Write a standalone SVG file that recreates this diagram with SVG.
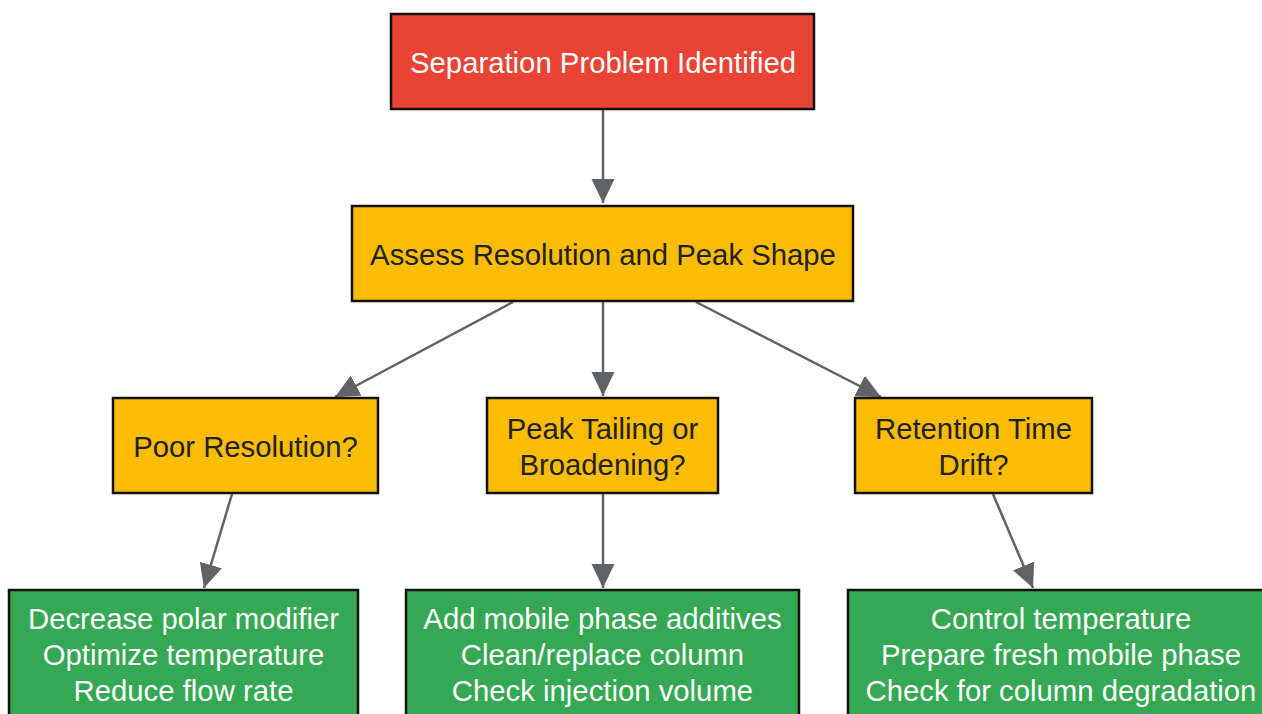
<svg xmlns="http://www.w3.org/2000/svg" width="1262" height="714" viewBox="0 0 1262 714">
<style>
.box{stroke:#111;stroke-width:2.5}
.red{fill:#EA4335}.yel{fill:#FBBC04}.grn{fill:#34A853}
text{font-family:"Liberation Sans",Arial,sans-serif;font-size:29.3px;text-anchor:middle;dominant-baseline:central}
.w{fill:#fff}.d{fill:#222}
.edge{stroke:#5F6368;stroke-width:2.5;fill:none;marker-end:url(#ah)}
</style>
<defs>
<marker id="ah" markerUnits="userSpaceOnUse" markerWidth="26" markerHeight="26" viewBox="0 0 26 26" refX="24" refY="13" orient="auto">
<path d="M0,1.5 L24,13 L0,24.5 Z" fill="#5F6368"/>
</marker>
</defs>
<rect width="1262" height="714" fill="#fff"/>
<g id="connectors">
<line class="edge" x1="603" y1="110" x2="603" y2="203"/>
<line class="edge" x1="513" y1="302" x2="335" y2="397"/>
<line class="edge" x1="603" y1="302" x2="603" y2="396"/>
<line class="edge" x1="696" y1="302" x2="881" y2="397"/>
<line class="edge" x1="232" y1="494" x2="204" y2="588"/>
<line class="edge" x1="603" y1="494" x2="603" y2="588"/>
<line class="edge" x1="993" y1="494" x2="1033" y2="588"/>
</g>
<g id="n1"><rect class="box red" x="391" y="14" width="423" height="95"/><text class="w" x="603" y="62">Separation Problem Identified</text></g>
<g id="n2"><rect class="box yel" x="352" y="206" width="501" height="95"/><text class="d" x="603" y="254">Assess Resolution and Peak Shape</text></g>
<g id="n3"><rect class="box yel" x="113" y="398" width="265" height="95"/><text class="d" x="245.5" y="446">Poor Resolution?</text></g>
<g id="n4"><rect class="box yel" x="487" y="398" width="231" height="95"/><text class="d" x="602.5" y="428">Peak Tailing or</text><text class="d" x="602.5" y="464">Broadening?</text></g>
<g id="n5"><rect class="box yel" x="855" y="398" width="237" height="95"/><text class="d" x="973.5" y="428">Retention Time</text><text class="d" x="973.5" y="464">Drift?</text></g>
<g id="n6"><rect class="box grn" x="9" y="590" width="349" height="150"/><text class="w" x="183.5" y="618">Decrease polar modifier</text><text class="w" x="183.5" y="654">Optimize temperature</text><text class="w" x="183.5" y="690">Reduce flow rate</text></g>
<g id="n7"><rect class="box grn" x="406" y="590" width="393" height="150"/><text class="w" x="602.5" y="618">Add mobile phase additives</text><text class="w" x="602.5" y="654">Clean/replace column</text><text class="w" x="602.5" y="690">Check injection volume</text></g>
<g id="n8"><rect class="box grn" x="848" y="590" width="426" height="150"/><text class="w" x="1061" y="618">Control temperature</text><text class="w" x="1061" y="654">Prepare fresh mobile phase</text><text class="w" x="1061" y="690">Check for column degradation</text></g>
</svg>
